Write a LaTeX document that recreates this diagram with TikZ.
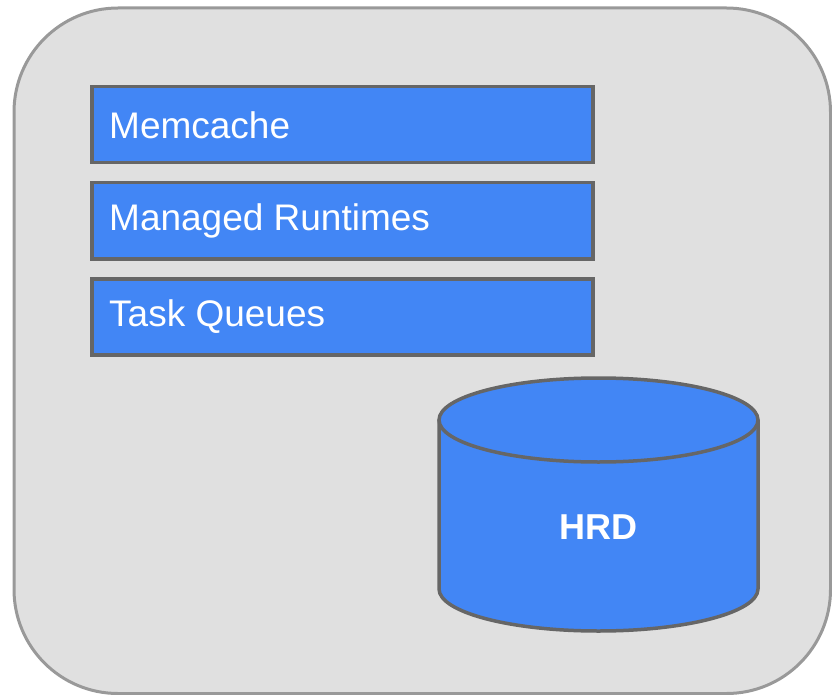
\documentclass[tikz,border=0pt]{standalone}
\usepackage{fontspec}
\setmainfont{Liberation Sans}
\definecolor{gbg}{HTML}{E0E0E0}
\definecolor{gedge}{HTML}{999999}
\definecolor{gblue}{HTML}{4286F5}
\definecolor{gdark}{HTML}{666666}
\begin{document}
\begin{tikzpicture}[x=1pt,y=-1pt,
  layer/.style={draw=gdark,fill=gblue,line width=3.5pt,rectangle,minimum width=501pt,minimum height=76pt,anchor=north west,inner sep=0pt},
  lbl/.style={text=white,font=\fontsize{37}{44}\selectfont,anchor=west,inner sep=0pt}]
\useasboundingbox (0,0) rectangle (832,695);
\draw[fill=gbg,draw=gedge,line width=3pt,rounded corners=104pt] (14,8) rectangle (830.5,693.5);
\node[layer] (mem) at (90,85) {};
\node[lbl] (memt) at (109,125) {Memcache};
\node[layer] (mr) at (90,181) {};
\node[lbl] (mrt) at (109,221) {Managed Runtimes};
\node[layer] (tq) at (90,277) {};
\node[lbl] (tqt) at (109,317) {Task Queues};
% cylinder
\draw[fill=gblue,draw=gdark,line width=3.5pt,line join=round]
  (439,420) -- (439,589) arc[start angle=180,end angle=360,x radius=159.5pt,y radius=42pt] -- (758,420) -- cycle;
\draw[fill=gblue,draw=gdark,line width=3.5pt] (598.5,420) ellipse[x radius=159.5pt,y radius=42pt];
\node[text=white,font=\fontsize{36}{43}\selectfont\bfseries,inner sep=0pt] (hrd) at (598.5,527) {HRD};
\end{tikzpicture}
\end{document}
